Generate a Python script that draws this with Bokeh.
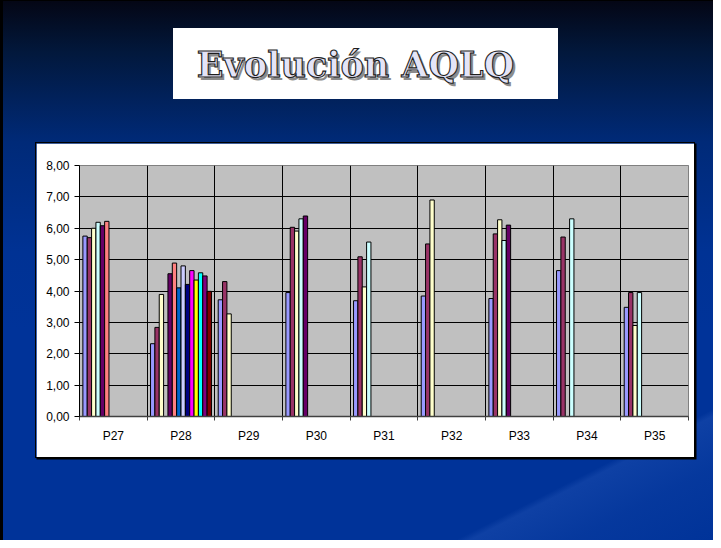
import math
from bokeh.plotting import figure
from bokeh.layouts import column
from bokeh.models import FixedTicker, CustomJSTickFormatter, ColumnDataSource, Div
from bokeh.transform import dodge
from bokeh.embed import file_html
from bokeh.resources import INLINE

NAN = float("nan")

# ---------------- data ----------------
categories = ["P27", "P28", "P29", "P30", "P31", "P32", "P33", "P34", "P35"]
s01 = [5.75, 2.32, 3.72, 3.95, 3.69, 3.84, 3.76, 4.65, 3.48]
s02 = [5.70, 2.84, 4.30, 6.03, 5.09, 5.50, 5.82, 5.72, 3.95]
s03 = [6.00, 3.89, 3.27, 5.91, 4.13, 6.90, 6.27, NAN, 2.90]
s04 = [6.19, NAN, NAN, 6.30, 5.56, NAN, 5.61, 6.30, 3.95]
s05 = [6.08, 4.55, NAN, 6.39, NAN, NAN, 6.10, NAN, NAN]
s06 = [6.22, 4.89, NAN, NAN, NAN, NAN, NAN, NAN, NAN]
s07 = [NAN, 4.10, NAN, NAN, NAN, NAN, NAN, NAN, NAN]
s08 = [NAN, 4.80, NAN, NAN, NAN, NAN, NAN, NAN, NAN]
s09 = [NAN, 4.21, NAN, NAN, NAN, NAN, NAN, NAN, NAN]
s10 = [NAN, 4.65, NAN, NAN, NAN, NAN, NAN, NAN, NAN]
s11 = [NAN, 4.35, NAN, NAN, NAN, NAN, NAN, NAN, NAN]
s12 = [NAN, 4.58, NAN, NAN, NAN, NAN, NAN, NAN, NAN]
s13 = [NAN, 4.48, NAN, NAN, NAN, NAN, NAN, NAN, NAN]
s14 = [NAN, 3.99, NAN, NAN, NAN, NAN, NAN, NAN, NAN]
series = [s01, s02, s03, s04, s05, s06, s07, s08, s09, s10, s11, s12, s13, s14]
colors = ["#9999FF", "#993366", "#FFFFCC", "#CCFFFF", "#660066", "#FF8080", "#0066CC",
          "#CCCCFF", "#000080", "#FF00FF", "#FFFF00", "#00FFFF", "#800080", "#800000"]
y_ticks = [0, 1, 2, 3, 4, 5, 6, 7, 8]
title_text = "Evolución AQLQ"

# ---------------- title box ----------------
title_html = (
    '<div style="position:relative;width:365px;height:71px;margin:0;padding:0;">'
    '<span style="position:absolute;left:0;top:19px;width:365px;text-align:center;'
    "font-family:'DejaVu Serif';font-weight:bold;font-size:35px;line-height:35px;"
    'color:#E4E4F7;-webkit-text-stroke:1.1px #1e1e1e;'
    'text-shadow:2.5px 2.5px 0 #8c8c8c;white-space:nowrap;">'
    + title_text + '</span></div>'
)
t = Div(text=title_html, width=385, height=71, margin=(28, 0, 0, 173),
        styles={"background-color": "#FFFFFF", "overflow": "hidden"})

# ---------------- chart ----------------
p = figure(width=658, height=314, output_backend="svg", toolbar_location=None, title=None,
           x_range=(0, len(categories)), y_range=(y_ticks[0], y_ticks[-1]),
           min_border_left=43, min_border_right=6, min_border_top=22, min_border_bottom=41,
           background_fill_color="#C0C0C0", border_fill_color="#FFFFFF",
           outline_line_color="#808080", outline_line_width=1,
           margin=(44, 0, 0, 36),
           styles={"box-shadow": "0 0 0 1px #000000, 1.5px 1.5px 0 1px #000000"})

x_centers = [i + 0.5 for i in range(len(categories))]
bw = 0.0643
nser = len(series)
for k, (vals, col) in enumerate(zip(series, colors)):
    xs = [xc for xc, v in zip(x_centers, vals) if not math.isnan(v)]
    tops = [v for v in vals if not math.isnan(v)]
    src = ColumnDataSource(dict(x=xs, top=tops))
    p.vbar(x=dodge("x", (k - (nser - 1) / 2) * bw, range=p.x_range), top="top", bottom=0,
           width=bw, source=src, fill_color=col, line_color="#000000", line_width=1)

xax = p.xaxis[0]
xax.ticker = FixedTicker(ticks=x_centers, minor_ticks=list(range(len(categories) + 1)))
xax.formatter = CustomJSTickFormatter(args=dict(cats=categories),
                                      code="return cats[Math.floor(tick)] || '';")
xax.major_tick_out = 0
xax.major_tick_in = 0
xax.minor_tick_out = 4
xax.minor_tick_in = 0
xax.minor_tick_line_color = "#404040"
xax.axis_line_color = "#404040"
xax.axis_line_width = 1.5
xax.major_label_standoff = 8
xax.major_label_text_font = "Liberation Sans"
xax.major_label_text_font_size = "12px"
xax.major_label_text_color = "#000000"

yax = p.yaxis[0]
yax.ticker = FixedTicker(ticks=y_ticks)
yax.formatter = CustomJSTickFormatter(code="return tick.toFixed(2).replace('.', ',');")
yax.major_tick_out = 5
yax.major_tick_in = 0
yax.minor_tick_line_color = None
yax.axis_line_color = "#000000"
yax.major_tick_line_color = "#000000"
yax.major_label_standoff = 5
yax.major_label_text_font = "Liberation Sans"
yax.major_label_text_font_size = "12px"
yax.major_label_text_color = "#000000"

p.xgrid.ticker = FixedTicker(ticks=list(range(1, len(categories))))
p.xgrid.grid_line_color = "#000000"
p.ygrid.ticker = FixedTicker(ticks=y_ticks[1:])
p.ygrid.grid_line_color = "#000000"

# ---------------- slide ----------------
streak = ("linear-gradient(153deg, rgba(0,0,0,0) 85.5%, rgba(80,125,215,0.18) 86.3%, "
          "rgba(80,125,215,0.07) 92%, rgba(80,125,215,0) 100%)")
slide_bg = ("linear-gradient(to bottom, #040614 0px, #02183c 52px, #002a78 142px, "
            "#003294 252px, #003399 330px, #003399 100%)")
layout = column(t, p, width=713, height=540, spacing=0,
                styles={"background": streak + ", " + slide_bg,
                        "box-shadow": "inset 3px 1px 0 #000000"})

open("out.html", "w").write(file_html(layout, INLINE))
